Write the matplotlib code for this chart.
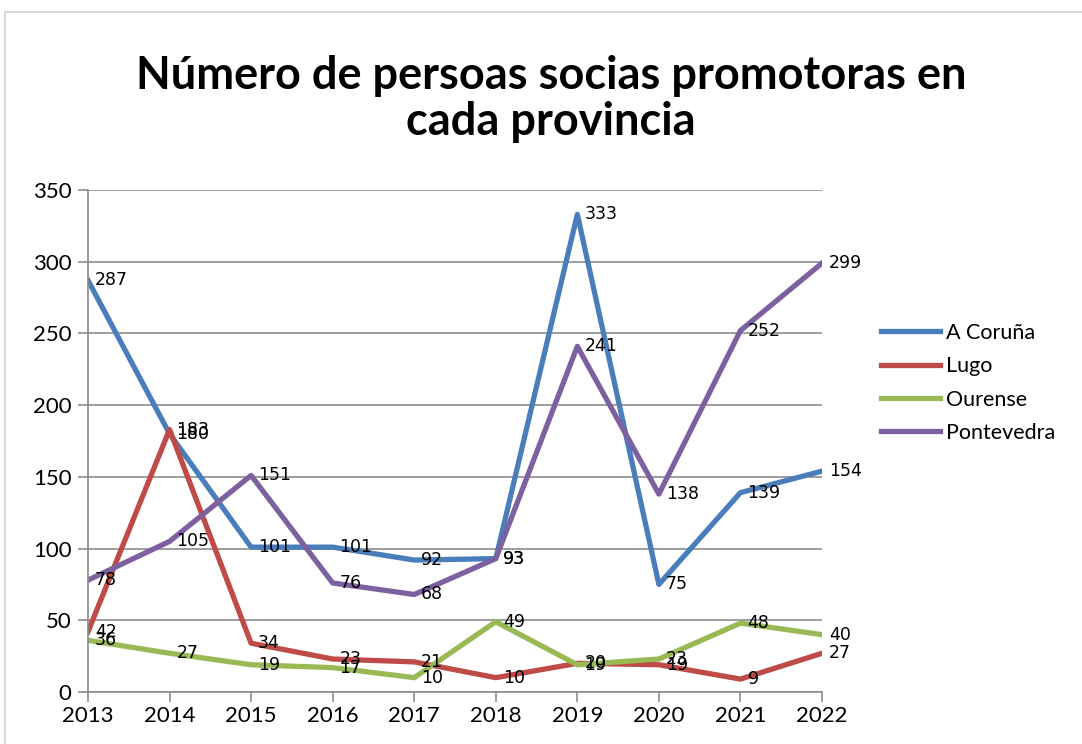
import matplotlib
matplotlib.use('Agg')
import matplotlib.pyplot as plt
from matplotlib.patches import Rectangle

years = [2013, 2014, 2015, 2016, 2017, 2018, 2019, 2020, 2021, 2022]
coruna = [287, 180, 101, 101, 92, 93, 333, 75, 139, 154]
lugo = [42, 183, 34, 23, 21, 10, 20, 19, 9, 27]
ourense = [36, 27, 19, 17, 10, 49, 19, 23, 48, 40]
pontevedra = [78, 105, 151, 76, 68, 93, 241, 138, 252, 299]

series = [('A Coruña', coruna, '#4A7EBB'),
          ('Lugo', lugo, '#BE4B48'),
          ('Ourense', ourense, '#98B954'),
          ('Pontevedra', pontevedra, '#7D60A0')]

plt.rcParams['font.family'] = ['Lato', 'DejaVu Sans']

fig = plt.figure(figsize=(10.82, 7.44), dpi=100)
ax = fig.add_axes([88 / 1082, 1 - 692 / 744, (822 - 88) / 1082, (692 - 190) / 744])

# outer chart border
fig.patches.append(Rectangle((5 / 1082, -0.01), 1.1, 1 - 12 / 744 + 0.01,
                             transform=fig.transFigure, fill=False,
                             edgecolor='#D9D9D9', linewidth=1.5))

for name, vals, col in series:
    ax.plot(years, vals, color=col, linewidth=3.8, label=name,
            solid_joinstyle='round')
    for x, y in zip(years, vals):
        ax.annotate(str(y), (x, y), xytext=(5, 0), textcoords='offset points',
                    va='center', ha='left', fontsize=12.5,
                    family='DejaVu Sans', color='black')

ax.set_xlim(2013, 2022)
ax.set_ylim(0, 350)
ax.set_yticks(range(0, 351, 50))
ax.set_xticks(years)
ax.grid(axis='y', color='#8C8C8C', linewidth=1.2)
ax.set_axisbelow(True)
for s in ['top', 'right']:
    ax.spines[s].set_visible(False)
for s in ['left', 'bottom']:
    ax.spines[s].set_color('#8C8C8C')
    ax.spines[s].set_linewidth(1.2)
ax.tick_params(axis='both', length=7, width=1.2, color='#8C8C8C',
               labelsize=16, direction='out')
ax.tick_params(axis='y', pad=5)
ax.tick_params(axis='x', pad=3)

fig.text(551 / 1082, 1 - 99 / 744,
         'Número de persoas socias promotoras en\ncada provincia',
         ha='center', va='center', fontsize=32.5, fontweight='bold',
         linespacing=1.12)

ax.legend(loc='center left', bbox_to_anchor=(862 / 1082, 1 - 383 / 744),
          bbox_transform=fig.transFigure, frameon=False, fontsize=15.5,
          handlelength=2.7, handletextpad=0.3, labelspacing=0.62)

fig.savefig('out.png', dpi=100)
